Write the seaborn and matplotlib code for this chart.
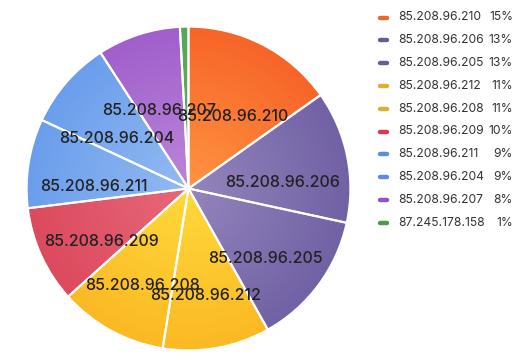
import numpy as np
import matplotlib
matplotlib.use("Agg")
import matplotlib.pyplot as plt
from matplotlib.colors import to_rgb
from matplotlib.lines import Line2D
import seaborn as sns

sns.set_theme(style="white")
plt.rcParams['font.family'] = ['Inter', 'DejaVu Sans']

# data
hosts = ['85.208.96.210', '85.208.96.206', '85.208.96.205', '85.208.96.212',
         '85.208.96.208', '85.208.96.209', '85.208.96.211', '85.208.96.204',
         '85.208.96.207', '87.245.178.158']
shares = [15.2, 13.2, 13.45, 10.7, 10.8, 9.7, 8.9, 8.9, 8.3, 0.85]

# gradient colours (centre -> rim) and legend swatch colours
inner_colors = ['#FF9440', '#9485BD', '#9485BD', '#FFDA3A', '#FFDA3A',
                '#E8687A', '#93BAF2', '#93BAF2', '#BB86DA', '#5DB05D']
outer_colors = ['#F76428', '#7161A5', '#7161A5', '#FBB923', '#FBB923',
                '#DC4A5E', '#6A9EEC', '#6A9EEC', '#A05FCB', '#55A855']
legend_colors = ['#F0652A', '#6B5B9B', '#6B5B9B', '#DDB030', '#DDB030',
                 '#D83A4A', '#5A8EDB', '#5A8EDB', '#9A4FC5', '#4A9A48']

fig = plt.figure(figsize=(5.26, 3.6), dpi=100)
ax = fig.add_axes([25 / 526, 8 / 360, 327 / 526, 327 / 360])

# slices too thin get no label on the pie
pie_labels = [h if s >= 2 else '' for h, s in zip(hosts, shares)]

wedges, texts = ax.pie(shares, startangle=90, counterclock=False,
                       labels=pie_labels, labeldistance=0.59,
                       wedgeprops=dict(facecolor='none', edgecolor='white',
                                       linewidth=1.5, zorder=3),
                       textprops=dict(fontsize=11.5, color='#222222',
                                      fontweight='medium', zorder=4))

# radial gradient for each slice
n = 500
xs = np.linspace(-1, 1, n)
gx, gy = np.meshgrid(xs, xs)
t = np.clip(np.hypot(gx, gy), 0, 1)[..., None]
for w, ci, co in zip(wedges, inner_colors, outer_colors):
    img = np.array(to_rgb(ci)) * (1 - t) + np.array(to_rgb(co)) * t
    im = ax.imshow(img, extent=(-1, 1, -1, 1), origin='lower', zorder=1)
    im.set_clip_path(w)

for tx in texts:
    tx.set_ha('center')
    tx.set_va('center')
    x, y = tx.get_position()
    tx.set_position((x, y - 0.08))

ax.set_xlim(-1.01, 1.01)
ax.set_ylim(-1.01, 1.01)
ax.set_axis_off()

# legend on the right
pct = [f"{round(s)}%" for s in shares]
for i, (h, p, c) in enumerate(zip(hosts, pct, legend_colors)):
    ypx = 17.5 + i * 22.8
    yf = 1 - ypx / 360
    fig.add_artist(Line2D([380 / 526, 387 / 526], [yf, yf], color=c, lw=3.2,
                          solid_capstyle='round', transform=fig.transFigure))
    fig.text(398 / 526, yf, h, fontsize=8.7, color='#333333', va='center', ha='left')
    fig.text(513 / 526, yf, p, fontsize=8.7, color='#333333', va='center', ha='right')

fig.savefig('out.png', dpi=100)
